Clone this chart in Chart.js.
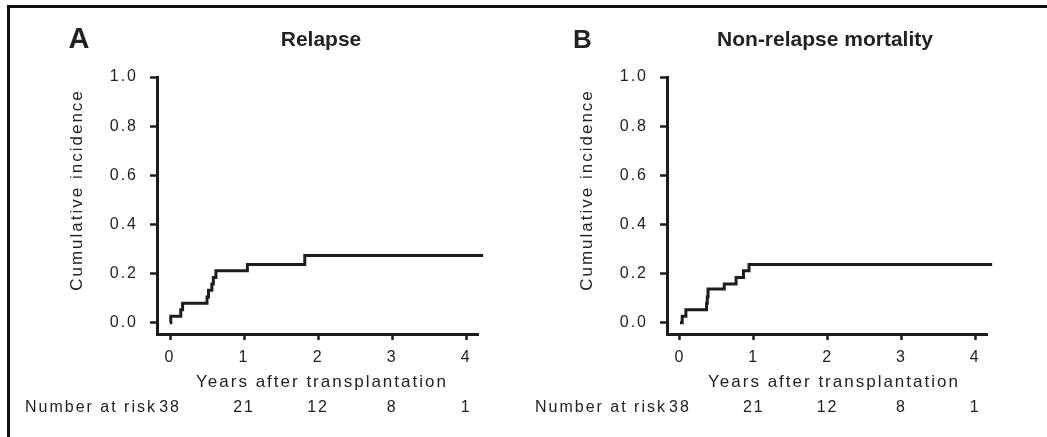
<!DOCTYPE html>
<html><head><meta charset="utf-8">
<script src="https://cdn.jsdelivr.net/npm/chart.js@4.4.0/dist/chart.umd.min.js"></script>
<style>
html,body{margin:0;padding:0;background:#fff;overflow:hidden;width:1047px;height:437px;}
#frame{position:absolute;left:7px;top:5px;width:1100px;height:500px;border-top:3px solid #111;border-left:3px solid #111;}
#wrapA{position:absolute;left:0;top:0;width:520px;height:437px;}
#wrapB{position:absolute;left:520px;top:0;width:527px;height:437px;}
canvas{display:block;}
</style></head><body>
<div id="frame"></div>
<div id="wrapA"><canvas id="cA" width="520" height="437" style="width:520px;height:437px"></canvas></div>
<div id="wrapB"><canvas id="cB" width="527" height="437" style="width:527px;height:437px"></canvas></div>
<script>
// ---- data ----
const xTicks = [0, 1, 2, 3, 4];
const yTicks = [0, 0.2, 0.4, 0.6, 0.8, 1.0];
const atRiskTimes = [0, 1, 2, 3, 4];
const relapseTimes  = [0, 0.01, 0.145, 0.17, 0.50, 0.52, 0.565, 0.585, 0.62, 1.045, 1.82, 4.23];
const relapseValues = [0, 0.026, 0.053, 0.079, 0.105, 0.132, 0.158, 0.184, 0.211, 0.237, 0.274, 0.274];
const nrmTimes  = [0, 0.03, 0.08, 0.36, 0.37, 0.38, 0.60, 0.76, 0.86, 0.935, 4.23];
const nrmValues = [0, 0.026, 0.053, 0.079, 0.105, 0.137, 0.158, 0.184, 0.211, 0.237, 0.237];
const atRiskRelapse = [38, 21, 12, 8, 1];
const atRiskNrm = [38, 21, 12, 8, 1];
const panelLetters = ['A', 'B'];
const panelTitles = ['Relapse', 'Non-relapse mortality'];
const yTitle = 'Cumulative incidence';
const xTitle = 'Years after transplantation';
const atRiskLabel = 'Number at risk';

// ---- styles / layout ----
const INK = '#1c1c1c';
const TEXT = '#222';
const FONT = '"Liberation Sans", Arial, Helvetica, sans-serif';
const X_MIN = -0.176, X_MAX = 4.16, Y_MIN = -0.046, Y_MAX = 1.0;

const layoutA = {yWidth:157, padTop:77, padRight:42, padBottom:73, xHeight:30,
  letterX:79, letterY:40, letterSize:29, titleX:321, titleY:40,
  yTitleX:77, yTitleY:190, xTitleX:322, xTitleY:382, riskY:408};
const layoutB = {yWidth:147, padTop:77, padRight:60, padBottom:73, xHeight:30,
  letterX:62.5, letterY:41, letterSize:26, titleX:305, titleY:40,
  yTitleX:67.5, yTitleY:190, xTitleX:314, xTitleY:382, riskY:408};

const spacingPlugin = {
  id:'spacing',
  beforeDraw(chart){ chart.ctx.letterSpacing = '2px'; }
};

function textPlugin(cfg, letter, title, atRisk){
  return {
    id:'extraText',
    afterDraw(chart){
      const ctx = chart.ctx, ca = chart.chartArea, xs = chart.scales.x;
      ctx.save();
      ctx.fillStyle = TEXT;
      ctx.textBaseline = 'middle';
      // panel letter and title
      ctx.letterSpacing = '0px';
      ctx.textAlign = 'center';
      ctx.font = `bold ${cfg.letterSize}px ${FONT}`;
      ctx.fillText(letter, cfg.letterX, cfg.letterY);
      ctx.font = `bold 21px ${FONT}`;
      ctx.fillText(title, cfg.titleX, cfg.titleY);
      // axis titles
      ctx.letterSpacing = '2px';
      ctx.font = `17px ${FONT}`;
      ctx.fillText(xTitle, cfg.xTitleX, cfg.xTitleY);
      ctx.save();
      ctx.translate(cfg.yTitleX, cfg.yTitleY);
      ctx.rotate(-Math.PI/2);
      ctx.fillText(yTitle, 0, 0);
      ctx.restore();
      // number at risk
      ctx.font = `16px ${FONT}`;
      ctx.textAlign = 'right';
      ctx.fillText(atRiskLabel, ca.left, cfg.riskY);
      ctx.textAlign = 'center';
      atRiskTimes.forEach((t, i) => {
        ctx.fillText(String(atRisk[i]), xs.getPixelForValue(t), cfg.riskY);
      });
      ctx.restore();
    }
  };
}

function makeChart(id, times, values, atRisk, cfg, letter, title){
  const pts = times.map((t, i) => ({x:t, y:values[i]}));
  return new Chart(document.getElementById(id), {
    type:'line',
    data:{datasets:[{data:pts, borderColor:INK, borderWidth:3, pointRadius:0,
      stepped:'before', fill:false, clip:false, borderJoinStyle:'miter', borderCapStyle:'butt'}]},
    options:{
      responsive:false, animation:false, events:[],
      layout:{padding:{left:0, top:cfg.padTop, right:cfg.padRight, bottom:cfg.padBottom}},
      plugins:{legend:{display:false}, tooltip:{enabled:false}, title:{display:false}},
      scales:{
        x:{type:'linear', min:X_MIN, max:X_MAX,
          afterBuildTicks:s => { s.ticks = xTicks.map(v => ({value:v})); },
          afterFit:s => { s.height = cfg.xHeight; },
          grid:{display:true, drawOnChartArea:false, drawTicks:true, tickLength:6, tickColor:INK, tickWidth:2.5},
          border:{display:true, color:INK, width:3},
          ticks:{color:TEXT, font:{family:FONT, size:16}, padding:8, maxRotation:0, autoSkip:false,
            callback:v => String(v)}},
        y:{type:'linear', min:Y_MIN, max:Y_MAX,
          afterBuildTicks:s => { s.ticks = yTicks.map(v => ({value:v})); },
          afterFit:s => { s.width = cfg.yWidth; },
          grid:{display:true, drawOnChartArea:false, drawTicks:true, tickLength:7, tickColor:INK, tickWidth:2.5},
          border:{display:true, color:INK, width:3},
          ticks:{color:TEXT, font:{family:FONT, size:16}, padding:12, autoSkip:false,
            callback:v => Number(v).toFixed(1)}}
      }
    },
    plugins:[spacingPlugin, textPlugin(cfg, letter, title, atRisk)]
  });
}

makeChart('cA', relapseTimes, relapseValues, atRiskRelapse, layoutA, panelLetters[0], panelTitles[0]);
makeChart('cB', nrmTimes, nrmValues, atRiskNrm, layoutB, panelLetters[1], panelTitles[1]);
</script>
</body></html>
